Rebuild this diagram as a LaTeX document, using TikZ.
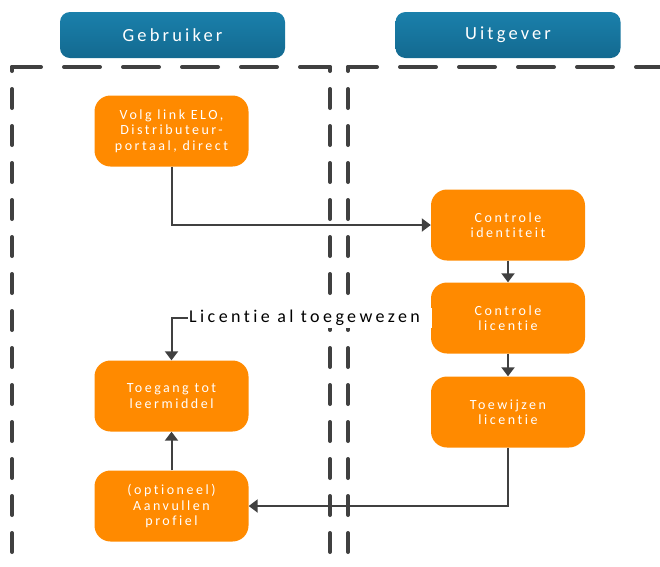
\documentclass[tikz,border=0pt]{standalone}
\usepackage{fontspec}
\setmainfont{Carlito}
\newfontfamily\hdrfont[LetterSpace=17,Ligatures=NoCommon]{Carlito}
\newfontfamily\boxfont[LetterSpace=18,Ligatures=NoCommon]{Carlito}
\newfontfamily\labfont[LetterSpace=19,Ligatures=NoCommon]{Carlito}
\usetikzlibrary{arrows.meta}
\definecolor{hdrtop}{HTML}{1A80AB}
\definecolor{hdrbot}{HTML}{136990}
\definecolor{boxorange}{HTML}{FF8A00}
\definecolor{linegray}{HTML}{404040}
\tikzset{
  hdr/.style={rounded corners=10pt, top color=hdrtop, bottom color=hdrbot, draw=none,
    minimum width=225pt, minimum height=46pt, text=white, font=\hdrfont\fontsize{18.5}{21}\selectfont},
  stepbox/.style={rounded corners=16pt, fill=boxorange, draw=none, minimum width=154pt,
    minimum height=71pt, text=white, align=center, font=\boxfont\fontsize{14}{15.5}\selectfont},
  lane/.style={draw=linegray, line width=4pt, line cap=round},
  hlane/.style={lane, dash pattern=on 36pt off 23pt, dash phase=7pt},
  vlane/.style={lane, dash pattern=on 19pt off 18pt, dash phase=15pt},
  conn/.style={draw=linegray, line width=2pt, -{Triangle[width=13pt,length=9pt]}},
  edgelabel/.style={fill=white, inner ysep=1pt, inner xsep=1pt, anchor=west, minimum height=20pt,
    font=\labfont\fontsize{18}{20}\selectfont},
}
\begin{document}
\begin{tikzpicture}[x=1pt,y=-1pt]
\useasboundingbox (0,0) rectangle (660,566);
% lanes
\coordinate (l1tl) at (12,67);
\coordinate (l1tr) at (330,67);
\coordinate (l1bl) at (12,570);
\coordinate (l1br) at (330,570);
\coordinate (l2tl) at (348,67);
\coordinate (l2tr) at (670,67);
\coordinate (l2bl) at (348,570);
\draw[hlane] (l1tl) -- (l1tr);
\draw[vlane] (l1tl) -- (l1bl);
\draw[vlane] (l1tr) -- (l1br);
\draw[hlane] (l2tl) -- (l2tr);
\draw[vlane] (l2tl) -- (l2bl);
% headers
\node[hdr] (geb) at (172.5,35) {Gebruiker};
\node[hdr] (uit) at (508,35) {Uitgever};
% boxes
\node[stepbox] (volg) at (171.5,131) {Volg link ELO,\\Distributeur-\\portaal, direct};
\node[stepbox] (cid) at (508,225) {Controle\\identiteit};
\node[stepbox] (clic) at (508,318) {Controle\\licentie};
\node[stepbox] (toew) at (508,412) {Toewijzen\\licentie};
\node[stepbox] (toeg) at (171.5,396) {Toegang tot\\leermiddel};
\node[stepbox] (aanv) at (171.5,506) {(optioneel)\\Aanvullen\\profiel};
% connectors
\draw[conn] (volg.south) |- (cid.west);
\draw[conn] (cid) -- (clic);
\draw[conn] (clic) -- (toew);
\draw[conn] (toew.south) |- (aanv.east);
\draw[conn] (aanv) -- (toeg);
\draw[conn] (clic.west) -| (toeg.north);
\node[edgelabel] (lab) at (188,318) {\makebox[242pt][l]{Licentie al toegewezen}};
\end{tikzpicture}
\end{document}
